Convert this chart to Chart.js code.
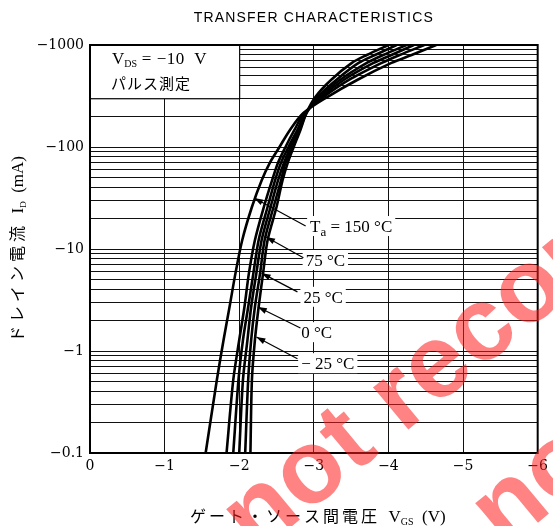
<!DOCTYPE html>
<html>
<head>
<meta charset="utf-8">
<script src="https://cdn.jsdelivr.net/npm/chart.js@4.4.1/dist/chart.umd.min.js"></script>
<style>
    html, body { margin: 0; padding: 0; background: #fff; }
    canvas { display: block; }
</style>
</head>
<body>
<canvas id="transferChart" width="553" height="526"></canvas>
<script>

/* ===============================
   DATA
=================================*/

// gate-source voltage |VGS| (V) tick labels
const vgsTicks = [0, 1, 2, 3, 4, 5, 6];
const vgsTickLabels = ["0", "−1", "−2", "−3", "−4", "−5", "−6"];

// drain current |ID| (mA) decades + labels
const idDecades = [0.1, 1, 10, 100, 1000];
const idTickLabels = ["−0.1", "−1", "−10", "−100", "−1000"];

// current levels at which each curve was read (mA)
const idLevels = [0.1, 0.52, 1.28, 2.7, 5.8, 12.2, 25.8, 47, 70, 100, 147, 215, 309, 454, 667, 798, 1000];

// |VGS| of each curve at those current levels
const vgs150 = [1.55, 1.70, 1.79, 1.87, 1.95, 2.04, 2.17, 2.30, 2.41, 2.54, 2.68, 2.86, 3.18, 3.58, 4.04, 4.31, 4.64];
const vgs100 = [1.83, 1.92, 2.00, 2.07, 2.13, 2.21, 2.33, 2.44, 2.52, 2.62, 2.74, 2.87, 3.13, 3.47, 3.91, 4.15, 4.48];
const vgs75  = [1.92, 1.99, 2.05, 2.12, 2.19, 2.26, 2.38, 2.48, 2.56, 2.66, 2.78, 2.89, 3.10, 3.40, 3.80, 4.04, 4.34];
const vgs25  = [2.00, 2.05, 2.11, 2.16, 2.23, 2.30, 2.42, 2.52, 2.60, 2.69, 2.79, 2.89, 3.07, 3.35, 3.71, 3.93, 4.24];
const vgs0   = [2.08, 2.12, 2.16, 2.21, 2.28, 2.34, 2.46, 2.56, 2.62, 2.72, 2.81, 2.90, 3.05, 3.30, 3.60, 3.82, 4.11];
const vgsM25 = [2.15, 2.17, 2.21, 2.26, 2.32, 2.38, 2.50, 2.58, 2.65, 2.73, 2.82, 2.90, 3.02, 3.23, 3.51, 3.71, 4.00];

const curves = [vgs150, vgs100, vgs75, vgs25, vgs0, vgsM25];

// temperature labels: text, label anchor (V, mA), arrow start / tip (V, mA)
const tempLabels = ["150 °C", "75 °C", "25 °C", "0 °C", "− 25 °C"];
const labelAnchor = [[2.95, 16.8], [2.89, 7.8], [2.86, 3.4], [2.83, 1.53], [2.83, 0.76]];
const arrowStart = [[2.89, 16.8], [2.86, 8.2], [2.78, 3.8], [2.82, 1.68], [2.78, 0.84]];
const arrowTip = [[2.20, 31.6], [2.36, 13.1], [2.30, 5.8], [2.25, 2.7], [2.23, 1.37]];

/* ===============================
   HELPERS
=================================*/

const LSERIF = "'Liberation Serif', serif";
const JP = "'Noto Sans CJK JP', sans-serif";

function buildYGrid() {
    const out = [];
    idDecades.forEach((d, i) => {
        if (i === idDecades.length - 1) { out.push(d); return; }
        for (let m = 1; m <= 9; m++) out.push(d * m);
    });
    return out;
}

// draw a run of text pieces: {t, f, dy, ls}
function drawRich(ctx, parts, x, y, align) {
    let w = 0;
    parts.forEach(p => {
        ctx.font = p.f;
        ctx.letterSpacing = (p.ls || 0) + "px";
        p.w = ctx.measureText(p.t).width;
        w += p.w;
    });
    let cx = align === "center" ? x - w / 2 : align === "right" ? x - w : x;
    ctx.textAlign = "left";
    ctx.textBaseline = "alphabetic";
    parts.forEach(p => {
        ctx.font = p.f;
        ctx.letterSpacing = (p.ls || 0) + "px";
        ctx.fillText(p.t, cx, y + (p.dy || 0));
        cx += p.w;
    });
    ctx.letterSpacing = "0px";
    return w;
}

function arrow(ctx, x1, y1, x2, y2) {
    ctx.beginPath();
    ctx.moveTo(x1, y1);
    ctx.lineTo(x2, y2);
    ctx.stroke();
    const a = Math.atan2(y2 - y1, x2 - x1);
    const L = 9, W = 3;
    ctx.beginPath();
    ctx.moveTo(x2, y2);
    ctx.lineTo(x2 - L * Math.cos(a) + W * Math.sin(a), y2 - L * Math.sin(a) - W * Math.cos(a));
    ctx.lineTo(x2 - L * Math.cos(a) - W * Math.sin(a), y2 - L * Math.sin(a) + W * Math.cos(a));
    ctx.closePath();
    ctx.fill();
}

/* ===============================
   ANNOTATION PLUGIN
=================================*/

const annotations = {
    id: "annotations",
    beforeDatasetsDraw(chart) {
        const { ctx, scales: { x, y } } = chart;
        ctx.save();

        // condition box in the upper-left corner
        const bx0 = x.getPixelForValue(0), bx1 = x.getPixelForValue(2);
        const by0 = y.getPixelForValue(1000), by1 = y.getPixelForValue(300);
        ctx.fillStyle = "#fff";
        ctx.fillRect(bx0, by0, bx1 - bx0, by1 - by0);
        ctx.strokeStyle = "#000";
        ctx.lineWidth = 1;
        ctx.strokeRect(bx0 + 0.5, by0, bx1 - bx0, by1 - by0 + 0.5);
        ctx.fillStyle = "#000";
        drawRich(ctx, [
            { t: "V", f: "17px " + LSERIF },
            { t: "DS", f: "10px " + LSERIF, dy: 3 },
            { t: " = −10  V", f: "17px " + LSERIF, ls: 0.5 }
        ], bx0 + 22, by0 + 19, "left");
        drawRich(ctx, [{ t: "パルス測定", f: "15px " + JP, ls: 1 }], bx0 + 21, by0 + 44, "left");

        // temperature labels with white backing
        tempLabels.forEach((txt, i) => {
            const lx = x.getPixelForValue(labelAnchor[i][0]);
            const ly = y.getPixelForValue(labelAnchor[i][1]);
            const parts = i === 0
                ? [{ t: "T", f: "17px " + LSERIF }, { t: "a", f: "13px " + LSERIF, dy: 4 }, { t: " = " + txt, f: "17px " + LSERIF }]
                : [{ t: txt, f: "17px " + LSERIF }];
            let w = 0;
            parts.forEach(p => { ctx.font = p.f; w += ctx.measureText(p.t).width; });
            ctx.fillStyle = "#fff";
            ctx.fillRect(lx - 3, ly - 10, w + 6, 20);
            ctx.fillStyle = "#000";
            drawRich(ctx, parts, lx, ly + 6, "left");

            ctx.strokeStyle = "#000";
            ctx.lineWidth = 1.2;
            arrow(ctx,
                x.getPixelForValue(arrowStart[i][0]), y.getPixelForValue(arrowStart[i][1]),
                x.getPixelForValue(arrowTip[i][0]), y.getPixelForValue(arrowTip[i][1]));
        });
        ctx.restore();
    },
    afterDatasetsDraw(chart) {
        const { ctx, chartArea: a } = chart;
        ctx.save();
        ctx.strokeStyle = "#000";
        ctx.lineWidth = 2;
        ctx.strokeRect(a.left, a.top, a.right - a.left, a.bottom - a.top);
        ctx.restore();
    },
    afterDraw(chart) {
        const { ctx, chartArea: a } = chart;
        ctx.save();
        ctx.fillStyle = "#000";

        // title
        ctx.font = "14px 'Liberation Sans', sans-serif";
        ctx.letterSpacing = "1.2px";
        ctx.textAlign = "center";
        ctx.fillText("TRANSFER CHARACTERISTICS", (a.left + a.right) / 2, 22);
        ctx.letterSpacing = "0px";

        // x-axis title
        drawRich(ctx, [
            { t: "ゲート・ソース間電圧", f: "16px " + JP, ls: 3 },
            { t: "  V", f: "17px " + LSERIF },
            { t: "GS", f: "10px " + LSERIF, dy: 3 },
            { t: "  (V)", f: "17px " + LSERIF }
        ], (a.left + a.right) / 2 + 4, 522, "center");

        // y-axis title
        ctx.translate(23, (a.top + a.bottom) / 2);
        ctx.rotate(-Math.PI / 2);
        drawRich(ctx, [
            { t: "ドレイン電流", f: "16px " + JP, ls: 4 },
            { t: "  I", f: "17px " + LSERIF },
            { t: "D", f: "9px " + LSERIF, dy: 3 },
            { t: "  (mA)", f: "17px " + LSERIF }
        ], 0, 0, "center");
        ctx.setTransform(1, 0, 0, 1, 0, 0);

        // red watermark
        ctx.fillStyle = "rgba(255, 30, 30, 0.55)";
        ctx.font = "bold 104px 'Liberation Sans', sans-serif";
        ctx.textAlign = "left";
        [[256, 556], [505, 550]].forEach(o => {
            ctx.setTransform(1, 0, 0, 1, 0, 0);
            ctx.translate(o[0], o[1]);
            ctx.rotate(-39.7 * Math.PI / 180);
            ctx.fillText("not recommended", 0, 0);
        });
        ctx.restore();
    }
};

/* ===============================
   CHART
=================================*/

const yGrid = buildYGrid();

new Chart(document.getElementById("transferChart"), {
    type: "scatter",
    data: {
        datasets: curves.map(c => ({
            data: c.map((v, i) => ({ x: v, y: idLevels[i] })),
            showLine: true,
            borderColor: "#000",
            borderWidth: 2.6,
            pointRadius: 0,
            tension: 0.3,
            clip: 0
        }))
    },
    options: {
        responsive: false,
        animation: false,
        devicePixelRatio: 1,
        layout: { padding: { top: 45, right: 10, left: 0, bottom: 0 } },
        plugins: { legend: { display: false }, tooltip: { enabled: false } },
        scales: {
            x: {
                type: "linear",
                min: 0,
                max: 6,
                afterBuildTicks: s => { s.ticks = vgsTicks.map(v => ({ value: v })); },
                grid: { color: "#111", lineWidth: 1, drawTicks: false },
                border: { display: false },
                ticks: {
                    padding: 5,
                    color: "#000",
                    font: { family: "'DejaVu Serif', serif", size: 14 },
                    callback: v => vgsTickLabels[vgsTicks.indexOf(Math.round(v))]
                },
                afterFit: s => { s.height = 73; }
            },
            y: {
                type: "logarithmic",
                min: 0.1,
                max: 1000,
                afterBuildTicks: s => { s.ticks = yGrid.map(v => ({ value: v })); },
                grid: { color: "#111", lineWidth: 1, drawTicks: false },
                border: { display: false },
                ticks: {
                    autoSkip: false,
                    padding: 6,
                    color: "#000",
                    font: { family: "'DejaVu Serif', serif", size: 14 },
                    callback: v => {
                        const i = idDecades.findIndex(d => Math.abs(d - v) / d < 1e-6);
                        return i >= 0 ? idTickLabels[i] : "";
                    }
                },
                afterFit: s => { s.width = 90; }
            }
        }
    },
    plugins: [annotations]
});
</script>
</body>
</html>
